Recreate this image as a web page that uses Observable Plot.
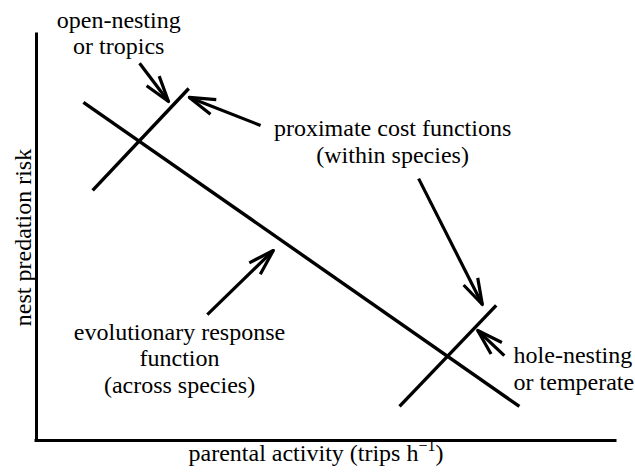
<!DOCTYPE html>
<html><head><meta charset="utf-8">
<script src="https://cdn.jsdelivr.net/npm/d3@7"></script>
<script src="https://cdn.jsdelivr.net/npm/@observablehq/plot@0.6"></script>
<style>body{margin:0;background:#fff;}</style>
</head><body><div id="chart"></div>
<script>
// Axis labels
const xLabel = "parental activity (trips h";
const xLabelSup = "\u22121";
const xLabelTail = ")";
const yLabel = "nest predation risk";

// Conceptual line segments (axis units 0-100)
const segName = ["evolutionary response", "open-nesting cost", "hole-nesting cost"];
const segX1 = [8.1, 9.7, 62.7];
const segY1 = [83.3, 61.6, 8.4];
const segX2 = [83.4, 26.3, 79.4];
const segY2 = [8.4, 86.7, 33.3];

// Annotation arrows (tail -> tip)
const arrowX1 = [17.8, 38.7, 66.0, 80.8, 29.5];
const arrowY1 = [92.9, 77.6, 64.5, 20.9, 31.0];
const arrowX2 = [22.8, 26.4, 77.0, 76.2, 40.9];
const arrowY2 = [83.5, 84.5, 33.5, 27.1, 46.8];

// Annotation texts
const noteText = ["open-nesting\nor tropics", "proximate cost functions\n(within species)", "hole-nesting\nor temperate", "evolutionary response\nfunction\n(across species)"];
const noteX = [14.2, 61.5, 82.4, 24.7];
const noteY = [100.5, 73.8, 17.8, 20.4];
const noteAlign = ["middle", "middle", "start", "middle"];

const W = 635, H = 475, ML = 36, MR = 20, MT = 34, MB = 35;
const kx = (W - ML - MR) / 100, ky = (H - MT - MB) / 100;

const segs = segName.map((n, i) => ({n, x1: segX1[i], y1: segY1[i], x2: segX2[i], y2: segY2[i]}));
const arrows = arrowX1.map((_, i) => {
  const dx = (arrowX1[i] - arrowX2[i]) * kx;
  const dy = -(arrowY1[i] - arrowY2[i]) * ky;
  return {x1: arrowX1[i], y1: arrowY1[i], x2: arrowX2[i], y2: arrowY2[i], rot: Math.atan2(dx, -dy) * 180 / Math.PI};
});
const notes = noteText.map((t, i) => ({t, x: noteX[i], y: noteY[i], a: noteAlign[i]}));

const headShape = {
  draw(context, l) {
    const a = 17 * Math.PI / 180;
    const w = l * Math.sin(a), h = l * Math.cos(a);
    context.moveTo(-w, -h);
    context.lineTo(0, 0);
    context.lineTo(w, -h);
  }
};

const font = "'Liberation Serif', 'Times New Roman', serif";
const textStyle = {fontSize: 24, fill: "black", fontFamily: font};

const plot = Plot.plot({
  width: W, height: H,
  marginLeft: ML, marginRight: MR, marginTop: MT, marginBottom: MB,
  x: {domain: [0, 100], axis: null},
  y: {domain: [0, 100], axis: null},
  style: {fontFamily: font, background: "white", color: "black", overflow: "visible"},
  marks: [
    Plot.ruleX([0], {strokeWidth: 3, strokeLinecap: "square"}),
    Plot.ruleY([0], {strokeWidth: 3, strokeLinecap: "square"}),
    Plot.link(segs, {x1: "x1", y1: "y1", x2: "x2", y2: "y2", stroke: "black", strokeWidth: 3.4, strokeLinecap: "butt"}),
    Plot.link(arrows, {x1: "x1", y1: "y1", x2: "x2", y2: "y2", stroke: "black", strokeWidth: 3.2, strokeLinecap: "butt"}),
    Plot.vector(arrows, {x: "x2", y: "y2", rotate: "rot", length: 27, anchor: "start", shape: headShape, stroke: "black", strokeWidth: 3.2, strokeLinecap: "butt", strokeLinejoin: "round"}),
    Plot.text(notes.filter(d => d.a === "middle"), {x: "x", y: "y", text: "t", lineHeight: 1.1, textAnchor: "middle", lineAnchor: "middle", ...textStyle}),
    Plot.text(notes.filter(d => d.a === "start"), {x: "x", y: "y", text: "t", lineHeight: 1.1, textAnchor: "start", lineAnchor: "middle", ...textStyle}),
    Plot.text([yLabel], {frameAnchor: "left", rotate: -90, dx: -12.7, textAnchor: "middle", lineAnchor: "middle", ...textStyle}),
    Plot.text([xLabel], {frameAnchor: "bottom", dy: 13, dx: -10, textAnchor: "middle", lineAnchor: "middle", ...textStyle})
  ]
});
document.getElementById("chart").appendChild(plot);

// Superscript on the x label
d3.select(plot).selectAll("text").filter(function() { return this.textContent === xLabel; }).each(function() {
  const t = d3.select(this);
  t.text(null);
  t.append("tspan").text(xLabel);
  t.append("tspan").attr("dy", -10).attr("font-size", 16).text(xLabelSup);
  t.append("tspan").attr("dy", 10).text(xLabelTail);
});
</script>
</body></html>
